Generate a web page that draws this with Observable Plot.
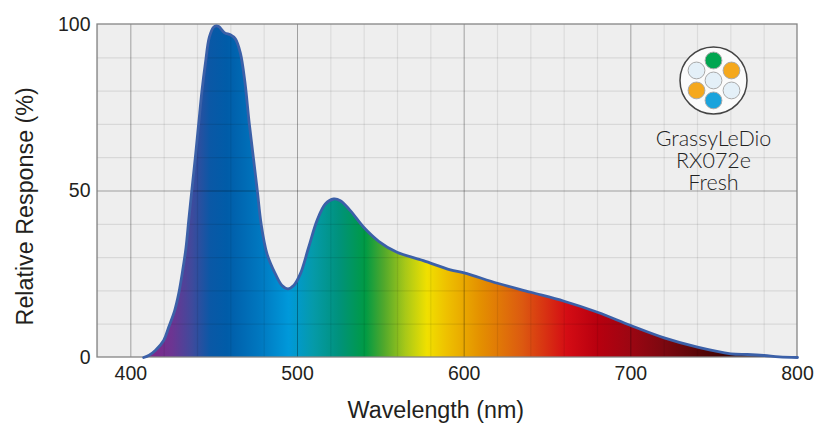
<!DOCTYPE html>
<html><head><meta charset="utf-8">
<script src="https://cdn.jsdelivr.net/npm/d3@7"></script>
<script src="https://cdn.jsdelivr.net/npm/@observablehq/plot@0.6"></script>
<style>html,body{margin:0;padding:0;background:#fff}svg{display:block}</style>
</head><body><div id="chart"></div>
<script>
const wavelengths = [407.7,411,414.7,419.7,422.7,426.3,428.7,431.1,433.1,434.7,436.6,438.7,440.7,442.7,444.7,447.1,449.7,451.2,452.7,456.3,459.7,462.7,465.7,468.5,471,473.5,475.9,478.2,481.7,486.7,490.7,494.3,497.7,501.7,506.7,511.7,516.7,521.7,525.7,531.7,539.7,548.7,559.7,575.5,591.7,600,620,640,660,680,700,720,740,760,770,780,789,800];
const response =    [0,0.7,2.1,5.1,9.1,14.1,19.1,26.1,33,41,50.2,60.1,70.2,80.2,88.2,96.2,99.2,99.6,99.4,97.5,96.9,95.7,91.5,82.5,70.5,60.1,50,40,31.1,25.1,21.6,20.6,21.6,25.1,33.1,41.1,46.1,47.6,47.1,44.1,39.1,34.9,31.6,29.1,26.3,25.4,22.3,19.6,16.9,13.6,9.6,5.9,3.1,1.1,0.9,0.6,0.2,0];
const stopWavelengths = [380,415,425,437,448,458,478,495,510,525,541,552,565,578,590,610,635,662,680,700,720,740,760,800];
const stopColors = ["#7b2a8c","#7b2a8c","#6c3592","#3f4a9c","#0a58a6","#005ca8","#0078c0","#0099da","#059aa8","#00927c","#009a44","#50a82c","#a8c818","#f0e000","#eec000","#e49000","#dc5a10","#d40c14","#b8000f","#9c0612","#7c0810","#5a0608","#3a0404","#200202"];
const gridMinorX = [380,420,440,460,480,520,540,560,580,620,640,660,680,720,740,760,780];
const gridMajorX = [400,500,600,700];
const gridMinorY = [10,20,30,40,60,70,80,90];
const gridMajorY = [50];
const frameX = [380,800];
const frameY = [0,100];
const xTicks = [400,500,600,700,800];
const yTicks = [0,50,100];
const xTitle = "Wavelength (nm)";
const yTitle = "Relative Response (%)";
const legendLines = ["GrassyLeDio","RX072e","Fresh"];
const legendLineY = [65.5,58.9,52.3];
const iconCenter = [[749.6,83.2]];
const ledW = [749.6,749.6,760.4,760.4,749.6,739.4,739.4];
const ledV = [83.2,89.2,86.2,80.2,77.2,80.2,86.2];
const ledFill = ["#e4f0f8","#00a650","#f5a81c","#e4f0f8","#1aa3dc","#f5a81c","#e4f0f8"];
const data = wavelengths.map((w,i)=>({w,v:response[i]}));
const leds = ledW.map((w,i)=>({w,v:ledV[i],c:ledFill[i]}));
const font = "'Liberation Sans',Arial,sans-serif";

const gradient = (index,{x})=>{
  const ns="http://www.w3.org/2000/svg";
  const defs=document.createElementNS(ns,"defs");
  const g=document.createElementNS(ns,"linearGradient");
  g.setAttribute("id","spectrum");
  g.setAttribute("gradientUnits","userSpaceOnUse");
  g.setAttribute("x1",x(380));g.setAttribute("x2",x(800));g.setAttribute("y1",0);g.setAttribute("y2",0);
  stopWavelengths.forEach((w,i)=>{
    const s=document.createElementNS(ns,"stop");
    s.setAttribute("offset",(w-380)/420);
    s.setAttribute("stop-color",stopColors[i]);
    g.appendChild(s);
  });
  defs.appendChild(g);
  return defs;
};

const chart = Plot.plot({
  width:824,height:432,
  marginLeft:97,marginRight:27,marginTop:24,marginBottom:75,
  style:{background:"#fff",fontFamily:font,overflow:"visible"},
  x:{domain:[380,800],range:[97,797],label:null},
  y:{domain:[0,100],range:[357,24],label:null},
  marks:[
    gradient,
    Plot.rect([0],{x1:frameX[0],x2:frameX[1],y1:frameY[0],y2:frameY[1],fill:"#eeeeee"}),
    Plot.areaY(data,{x:"w",y:"v",fill:"url(#spectrum)",curve:"catmull-rom"}),
    Plot.ruleX(gridMinorX,{stroke:"#000",strokeOpacity:0.08,strokeWidth:1.2}),
    Plot.ruleY(gridMinorY,{stroke:"#000",strokeOpacity:0.09,strokeWidth:1.2}),
    Plot.ruleX(gridMajorX,{stroke:"#000",strokeOpacity:0.33,strokeWidth:1}),
    Plot.ruleY(gridMajorY,{stroke:"#000",strokeOpacity:0.33,strokeWidth:1}),
    Plot.rect([0],{x1:frameX[0],x2:frameX[1],y1:frameY[0],y2:frameY[1],fill:"none",stroke:"#858585",strokeWidth:1.3}),
    Plot.line(data,{x:"w",y:"v",stroke:"#3b60a8",strokeWidth:2.8,curve:"catmull-rom"}),
    Plot.dot(iconCenter,{x:d=>d[0],y:d=>d[1],r:33.5,fill:"#fbfbfb",stroke:"#444",strokeWidth:1.5}),
    Plot.dot(leds,{x:"w",y:"v",r:8.4,fill:"c",stroke:"#a9a9a9",strokeWidth:1}),
    Plot.text(legendLines,{x:()=>749.6,y:(d,i)=>legendLineY[i],text:d=>d,fontSize:21.5,fill:"#222",fontFamily:"Lato,sans-serif",fontWeight:300,lineAnchor:"middle"}),
    Plot.axisX(xTicks,{tickSize:0,tickPadding:9,fontSize:19.5,fill:"#231f20",label:null,tickFormat:d=>d}),
    Plot.axisY(yTicks,{tickSize:0,tickPadding:7,fontSize:19.5,fill:"#231f20",label:null,tickFormat:d=>d}),
    Plot.text([xTitle],{x:()=>583,y:()=>-15.8,text:d=>d,fontSize:23.3,fill:"#231f20",lineAnchor:"middle",clip:false}),
    Plot.text([yTitle],{x:()=>336.7,y:()=>45.4,text:d=>d,rotate:-90,fontSize:23.3,fill:"#231f20",lineAnchor:"middle",clip:false})
  ]
});
document.getElementById("chart").appendChild(chart);
</script></body></html>
